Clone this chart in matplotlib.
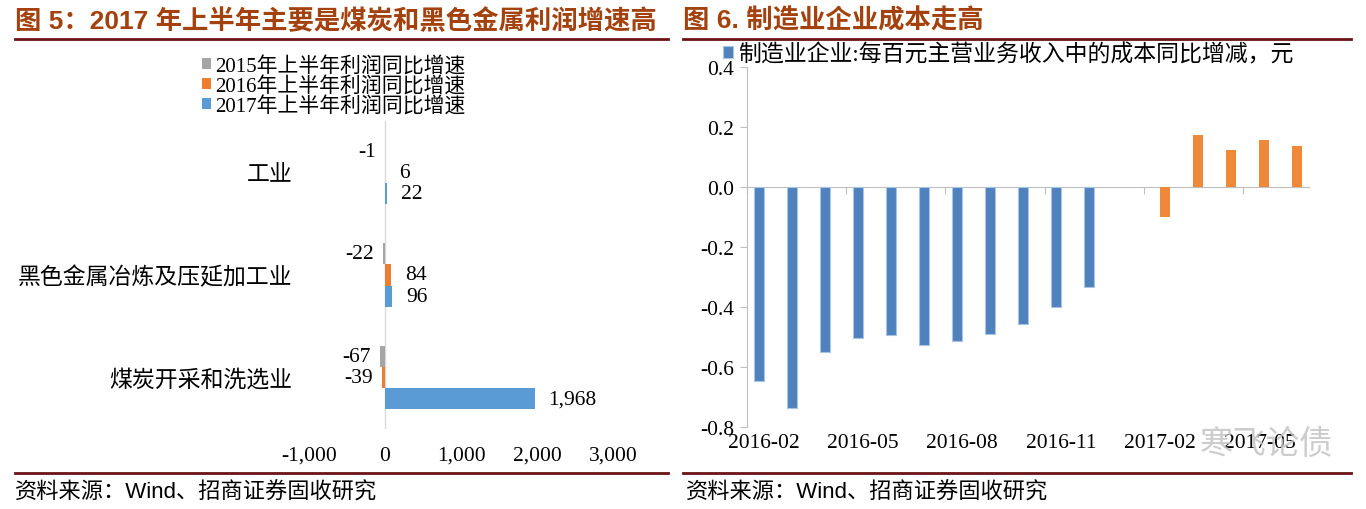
import numpy as np
import matplotlib.pyplot as plt
from matplotlib.lines import Line2D
from matplotlib.ticker import FuncFormatter

plt.rcParams['font.family'] = ['Liberation Serif', 'Noto Sans CJK SC']

# left chart: profit growth in H1, %
industries = ['工业', '黑色金属冶炼及压延加工业', '煤炭开采和洗选业']
growth_2015 = [-1, -22, -67]
growth_2016 = [6, 84, -39]
growth_2017 = [22, 96, 1968]
series_names = ['2015年上半年利润同比增速', '2016年上半年利润同比增速', '2017年上半年利润同比增速']

# right chart: cost per 100 yuan of revenue, yoy change
months = ['2016-02', '2016-03', '2016-04', '2016-05', '2016-06', '2016-07',
          '2016-08', '2016-09', '2016-10', '2016-11', '2016-12', '2017-01',
          '2017-02', '2017-03', '2017-04', '2017-05', '2017-06']
cost_2016 = [-0.645, -0.737, -0.551, -0.504, -0.492, -0.526, -0.512, -0.491,
             -0.458, -0.399, -0.332, None, None, None, None, None, None]
cost_2017 = [None, None, None, None, None, None, None, None, None, None, None,
             None, -0.099, 0.173, 0.122, 0.157, 0.136]
cost_name = '制造业企业:每百元主营业务收入中的成本同比增减，元'

W, H = 1366, 510
fig = plt.figure(figsize=(W / 100, H / 100), dpi=100)


def box(x0, y0, x1, y1):
    return [x0 / W, 1 - y1 / H, (x1 - x0) / W, (y1 - y0) / H]


# ---- left chart
ax1 = fig.add_axes(box(309, 122, 613, 430))
y = np.arange(len(industries))
bh = 0.205
colors1 = ['#A5A5A5', '#ED7D31', '#5B9BD5']
handles = []
for k, vals in enumerate([growth_2015, growth_2016, growth_2017]):
    bars = ax1.barh(y + (k - 1) * bh, vals, height=bh, color=colors1[k], label=series_names[k])
    handles.append(bars)
    for rect, v in zip(bars, vals):
        yc = rect.get_y() + rect.get_height() / 2
        if v >= 0:
            ax1.annotate(f'{v:,}', (v, yc), xytext=(14, 0), textcoords='offset pixels',
                         ha='left', va='center', fontsize=15.5)
        else:
            ax1.annotate(f'{v:,}', (v, yc), xytext=(-9, 0), textcoords='offset pixels',
                         ha='right', va='center', fontsize=15.5)

ax1.set_xlim(-1000, 3000)
ax1.set_ylim(len(industries) - 0.5, -0.5)
ax1.set_xticks(range(-1000, 3001, 1000))
ax1.xaxis.set_major_formatter(FuncFormatter(lambda v, p: f'{v:,.0f}'))
ax1.set_yticks(y)
ax1.set_yticklabels(industries)
ax1.tick_params(axis='y', length=0, pad=12, labelsize=16.5)
ax1.tick_params(axis='x', length=0, pad=12, labelsize=15.5)
for s in ax1.spines.values():
    s.set_visible(False)
ax1.axvline(0, color='#D9D9D9', lw=1, zorder=0)

fig.legend(handles=handles, loc='upper left', bbox_to_anchor=(202 / W, 1 - 57 / H),
           frameon=False, fontsize=15, handlelength=0.45, handleheight=0.45,
           handletextpad=0.2, labelspacing=0.0, borderpad=0, borderaxespad=0)

# ---- right chart
ax2 = fig.add_axes(box(747, 68, 1309, 428))
x = np.arange(len(months))
bw = 0.3
blue = np.array([np.nan if v is None else v for v in cost_2016])
orange = np.array([np.nan if v is None else v for v in cost_2017])
b2 = ax2.bar(x - bw / 2, blue, bw, color='#4F81BD', edgecolor='#A9C3E3', lw=0.8, label=cost_name)
ax2.bar(x + bw / 2, orange, bw, color='#F0883A')
ax2.set_xlim(-0.5, len(months) - 0.5)
ax2.set_ylim(-0.8, 0.4)
yt = [-0.8, -0.6, -0.4, -0.2, 0.0, 0.2, 0.4]
ax2.set_yticks(yt)
ax2.set_yticklabels([f'{t:.1f}' for t in yt])
ax2.set_xticks(x[::3])
ax2.set_xticklabels(months[::3])
ax2.tick_params(axis='x', length=0, pad=4, labelsize=15.5)
ax2.tick_params(axis='y', length=5, color='#BFBFBF', pad=4, labelsize=15.5)
for side in ['top', 'right', 'bottom']:
    ax2.spines[side].set_visible(False)
ax2.spines['left'].set_color('#BFBFBF')

zero_frac = (0 - (-0.8)) / (0.4 - (-0.8))
sec = ax2.secondary_xaxis(zero_frac)
sec.set_alignment('bottom')
sec.set_xticks(np.arange(-0.5, len(months) - 1, 3))
sec.tick_params(length=5, color='#BFBFBF', labelbottom=False, labeltop=False)
for s in sec.spines.values():
    s.set_color('#BFBFBF')

fig.legend(handles=[b2], loc='upper left', bbox_to_anchor=(723 / W, 1 - 44 / H),
           frameon=False, fontsize=16.5, handlelength=0.45, handleheight=0.45,
           handletextpad=0.2, borderpad=0, borderaxespad=0)

# ---- titles, rules, sources
title_font = ['Liberation Sans', 'Noto Sans CJK SC']
fig.text(15 / W, 1 - 21 / H, '图 5：2017 年上半年主要是煤炭和黑色金属利润增速高', fontsize=19,
         fontweight='bold', color='#A3420E', va='center', family=title_font)
fig.text(683 / W, 1 - 21 / H, '图 6. 制造业企业成本走高', fontsize=19,
         fontweight='bold', color='#A3420E', va='center', family=title_font)

for x0, x1 in [(15, 668), (683, 1351)]:
    for yy in [40, 474]:
        fig.add_artist(Line2D([x0 / W, x1 / W], [1 - yy / H, 1 - yy / H], color='#6B1315', lw=2))

for x0 in [15, 686]:
    fig.text(x0 / W, 1 - 493 / H, '资料来源：Wind、招商证券固收研究', fontsize=16,
             va='center', family=title_font)

fig.text(1200 / W, 1 - 444 / H, '寒飞论债', fontsize=24, color='#C4C4C4', va='center',
         family=['Noto Sans CJK SC'], alpha=0.85)

fig.savefig('out.png', dpi=100)
